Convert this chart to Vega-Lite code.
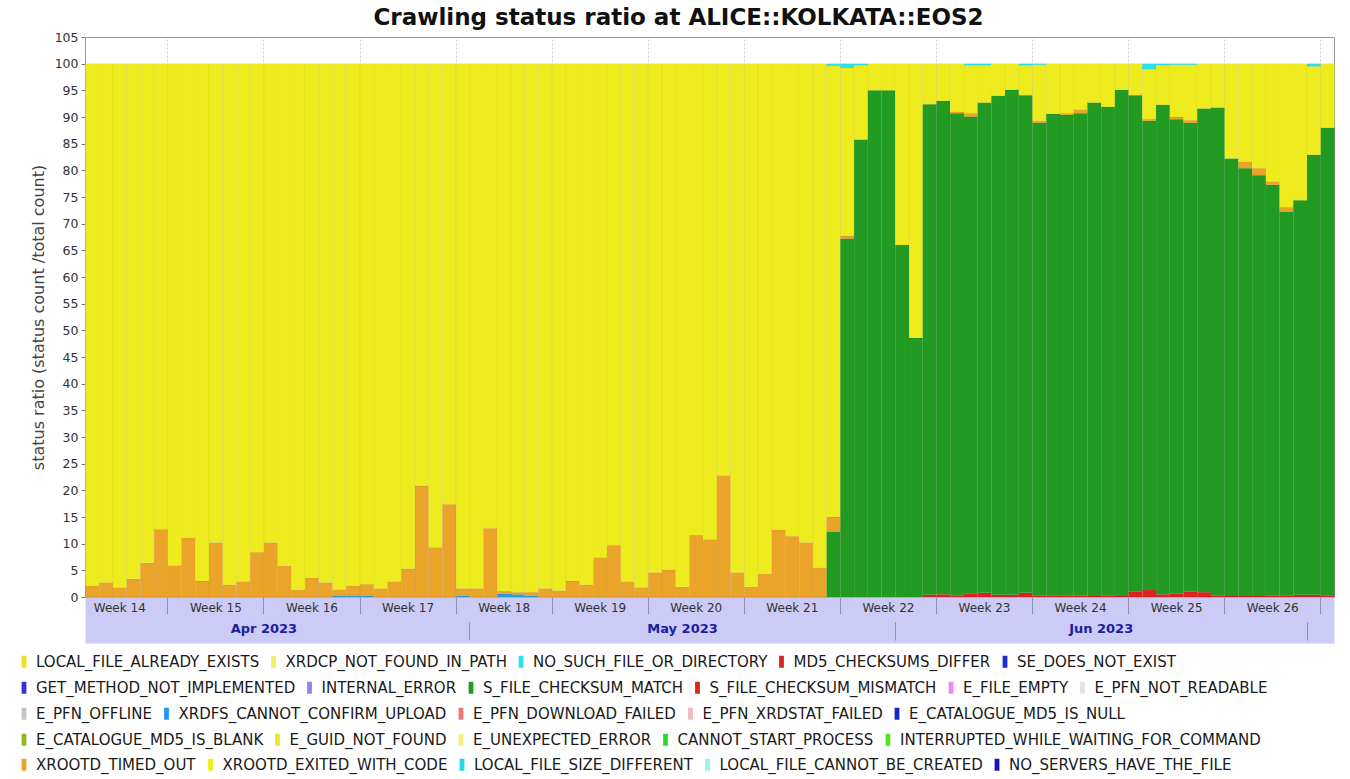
{
  "$schema": "https://vega.github.io/schema/vega-lite/v6.json",
  "autosize": {"type": "none"},
  "width": 1249,
  "height": 560,
  "padding": {"left": 85, "top": 37, "right": 16, "bottom": 182},
  "background": "white",
  "title": {"text": "Crawling status ratio at ALICE::KOLKATA::EOS2", "font": "DejaVu Sans", "fontSize": 23, "fontWeight": "bold", "color": "#111111", "anchor": "middle", "frame": "group", "dx": -31, "offset": 1},
  "datasets": {
    "crawl": [
      {"d":"2023-04-03","XROOTD_TIMED_OUT":2.1,"XROOTD_EXITED_WITH_CODE":97.9},
      {"d":"2023-04-04","XROOTD_TIMED_OUT":2.7,"XROOTD_EXITED_WITH_CODE":97.3},
      {"d":"2023-04-05","XROOTD_TIMED_OUT":1.8,"XROOTD_EXITED_WITH_CODE":98.2},
      {"d":"2023-04-06","XROOTD_TIMED_OUT":3.4,"XROOTD_EXITED_WITH_CODE":96.6},
      {"d":"2023-04-07","XROOTD_TIMED_OUT":6.4,"XROOTD_EXITED_WITH_CODE":93.6},
      {"d":"2023-04-08","XROOTD_TIMED_OUT":12.7,"XROOTD_EXITED_WITH_CODE":87.3},
      {"d":"2023-04-09","XROOTD_TIMED_OUT":5.9,"XROOTD_EXITED_WITH_CODE":94.1},
      {"d":"2023-04-10","XROOTD_TIMED_OUT":11.1,"XROOTD_EXITED_WITH_CODE":88.9},
      {"d":"2023-04-11","XROOTD_TIMED_OUT":3.0,"XROOTD_EXITED_WITH_CODE":97.0},
      {"d":"2023-04-12","XROOTD_TIMED_OUT":10.2,"XROOTD_EXITED_WITH_CODE":89.8},
      {"d":"2023-04-13","XROOTD_TIMED_OUT":2.3,"XROOTD_EXITED_WITH_CODE":97.7},
      {"d":"2023-04-14","XROOTD_TIMED_OUT":2.9,"XROOTD_EXITED_WITH_CODE":97.1},
      {"d":"2023-04-15","XROOTD_TIMED_OUT":8.4,"XROOTD_EXITED_WITH_CODE":91.6},
      {"d":"2023-04-16","XROOTD_TIMED_OUT":10.2,"XROOTD_EXITED_WITH_CODE":89.8},
      {"d":"2023-04-17","XROOTD_TIMED_OUT":5.8,"XROOTD_EXITED_WITH_CODE":94.2},
      {"d":"2023-04-18","XROOTD_TIMED_OUT":1.3,"XROOTD_EXITED_WITH_CODE":98.7},
      {"d":"2023-04-19","XROOTD_TIMED_OUT":3.6,"XROOTD_EXITED_WITH_CODE":96.4},
      {"d":"2023-04-20","XROOTD_TIMED_OUT":2.7,"XROOTD_EXITED_WITH_CODE":97.3},
      {"d":"2023-04-21","XRDFS_CANNOT_CONFIRM_UPLOAD":0.3,"XROOTD_TIMED_OUT":1.1,"XROOTD_EXITED_WITH_CODE":98.6},
      {"d":"2023-04-22","XRDFS_CANNOT_CONFIRM_UPLOAD":0.3,"XROOTD_TIMED_OUT":1.8,"XROOTD_EXITED_WITH_CODE":97.9},
      {"d":"2023-04-23","XRDFS_CANNOT_CONFIRM_UPLOAD":0.2,"XROOTD_TIMED_OUT":2.2,"XROOTD_EXITED_WITH_CODE":97.6},
      {"d":"2023-04-24","XROOTD_TIMED_OUT":1.6,"XROOTD_EXITED_WITH_CODE":98.4},
      {"d":"2023-04-25","XROOTD_TIMED_OUT":2.9,"XROOTD_EXITED_WITH_CODE":97.1},
      {"d":"2023-04-26","XROOTD_TIMED_OUT":5.3,"XROOTD_EXITED_WITH_CODE":94.7},
      {"d":"2023-04-27","XROOTD_TIMED_OUT":20.8,"XROOTD_EXITED_WITH_CODE":79.2},
      {"d":"2023-04-28","XROOTD_TIMED_OUT":9.3,"XROOTD_EXITED_WITH_CODE":90.7},
      {"d":"2023-04-29","XROOTD_TIMED_OUT":17.4,"XROOTD_EXITED_WITH_CODE":82.6},
      {"d":"2023-04-30","XRDFS_CANNOT_CONFIRM_UPLOAD":0.2,"XROOTD_TIMED_OUT":1.4,"XROOTD_EXITED_WITH_CODE":98.4},
      {"d":"2023-05-01","XROOTD_TIMED_OUT":1.6,"XROOTD_EXITED_WITH_CODE":98.4},
      {"d":"2023-05-02","XROOTD_TIMED_OUT":12.9,"XROOTD_EXITED_WITH_CODE":87.1},
      {"d":"2023-05-03","XRDFS_CANNOT_CONFIRM_UPLOAD":0.6,"XROOTD_TIMED_OUT":0.5,"XROOTD_EXITED_WITH_CODE":98.9},
      {"d":"2023-05-04","XRDFS_CANNOT_CONFIRM_UPLOAD":0.5,"XROOTD_TIMED_OUT":0.4,"XROOTD_EXITED_WITH_CODE":99.1},
      {"d":"2023-05-05","XRDFS_CANNOT_CONFIRM_UPLOAD":0.2,"XROOTD_TIMED_OUT":0.7,"XROOTD_EXITED_WITH_CODE":99.1},
      {"d":"2023-05-06","XROOTD_TIMED_OUT":1.6,"XROOTD_EXITED_WITH_CODE":98.4},
      {"d":"2023-05-07","XROOTD_TIMED_OUT":1.2,"XROOTD_EXITED_WITH_CODE":98.8},
      {"d":"2023-05-08","XROOTD_TIMED_OUT":3.0,"XROOTD_EXITED_WITH_CODE":97.0},
      {"d":"2023-05-09","XROOTD_TIMED_OUT":2.3,"XROOTD_EXITED_WITH_CODE":97.7},
      {"d":"2023-05-10","XROOTD_TIMED_OUT":7.4,"XROOTD_EXITED_WITH_CODE":92.6},
      {"d":"2023-05-11","XROOTD_TIMED_OUT":9.7,"XROOTD_EXITED_WITH_CODE":90.3},
      {"d":"2023-05-12","XROOTD_TIMED_OUT":2.9,"XROOTD_EXITED_WITH_CODE":97.1},
      {"d":"2023-05-13","XROOTD_TIMED_OUT":1.8,"XROOTD_EXITED_WITH_CODE":98.2},
      {"d":"2023-05-14","XROOTD_TIMED_OUT":4.6,"XROOTD_EXITED_WITH_CODE":95.4},
      {"d":"2023-05-15","XROOTD_TIMED_OUT":5.1,"XROOTD_EXITED_WITH_CODE":94.9},
      {"d":"2023-05-16","XROOTD_TIMED_OUT":1.9,"XROOTD_EXITED_WITH_CODE":98.1},
      {"d":"2023-05-17","XROOTD_TIMED_OUT":11.6,"XROOTD_EXITED_WITH_CODE":88.4},
      {"d":"2023-05-18","XROOTD_TIMED_OUT":10.8,"XROOTD_EXITED_WITH_CODE":89.2},
      {"d":"2023-05-19","XROOTD_TIMED_OUT":22.8,"XROOTD_EXITED_WITH_CODE":77.2},
      {"d":"2023-05-20","XROOTD_TIMED_OUT":4.6,"XROOTD_EXITED_WITH_CODE":95.4},
      {"d":"2023-05-21","XROOTD_TIMED_OUT":1.9,"XROOTD_EXITED_WITH_CODE":98.1},
      {"d":"2023-05-22","XROOTD_TIMED_OUT":4.3,"XROOTD_EXITED_WITH_CODE":95.7},
      {"d":"2023-05-23","XROOTD_TIMED_OUT":12.6,"XROOTD_EXITED_WITH_CODE":87.4},
      {"d":"2023-05-24","XROOTD_TIMED_OUT":11.4,"XROOTD_EXITED_WITH_CODE":88.6},
      {"d":"2023-05-25","XROOTD_TIMED_OUT":10.2,"XROOTD_EXITED_WITH_CODE":89.8},
      {"d":"2023-05-26","XROOTD_TIMED_OUT":5.5,"XROOTD_EXITED_WITH_CODE":94.5},
      {"d":"2023-05-27","S_FILE_CHECKSUM_MATCH":12.3,"XROOTD_TIMED_OUT":2.7,"XROOTD_EXITED_WITH_CODE":84.6,"NO_SUCH_FILE_OR_DIRECTORY":0.4},
      {"d":"2023-05-28","S_FILE_CHECKSUM_MATCH":67.2,"XROOTD_TIMED_OUT":0.5,"XROOTD_EXITED_WITH_CODE":31.5,"NO_SUCH_FILE_OR_DIRECTORY":0.8},
      {"d":"2023-05-29","S_FILE_CHECKSUM_MATCH":85.8,"XROOTD_EXITED_WITH_CODE":13.9,"NO_SUCH_FILE_OR_DIRECTORY":0.3},
      {"d":"2023-05-30","S_FILE_CHECKSUM_MATCH":95.0,"XROOTD_EXITED_WITH_CODE":5.0},
      {"d":"2023-05-31","S_FILE_CHECKSUM_MATCH":95.0,"XROOTD_EXITED_WITH_CODE":5.0},
      {"d":"2023-06-01","S_FILE_CHECKSUM_MATCH":66.0,"XROOTD_EXITED_WITH_CODE":34.0},
      {"d":"2023-06-02","S_FILE_CHECKSUM_MATCH":48.6,"XROOTD_EXITED_WITH_CODE":51.4},
      {"d":"2023-06-03","S_FILE_CHECKSUM_MISMATCH":0.4,"S_FILE_CHECKSUM_MATCH":92.0,"XROOTD_EXITED_WITH_CODE":7.6},
      {"d":"2023-06-04","S_FILE_CHECKSUM_MISMATCH":0.5,"S_FILE_CHECKSUM_MATCH":92.5,"XROOTD_EXITED_WITH_CODE":7.0},
      {"d":"2023-06-05","S_FILE_CHECKSUM_MISMATCH":0.3,"S_FILE_CHECKSUM_MATCH":90.4,"XROOTD_TIMED_OUT":0.3,"XROOTD_EXITED_WITH_CODE":9.0},
      {"d":"2023-06-06","S_FILE_CHECKSUM_MISMATCH":0.7,"S_FILE_CHECKSUM_MATCH":89.4,"XROOTD_TIMED_OUT":0.6,"XROOTD_EXITED_WITH_CODE":9.0,"NO_SUCH_FILE_OR_DIRECTORY":0.3},
      {"d":"2023-06-07","S_FILE_CHECKSUM_MISMATCH":0.8,"S_FILE_CHECKSUM_MATCH":91.9,"XROOTD_EXITED_WITH_CODE":7.0,"NO_SUCH_FILE_OR_DIRECTORY":0.3},
      {"d":"2023-06-08","S_FILE_CHECKSUM_MISMATCH":0.4,"S_FILE_CHECKSUM_MATCH":93.6,"XROOTD_EXITED_WITH_CODE":6.0},
      {"d":"2023-06-09","S_FILE_CHECKSUM_MISMATCH":0.4,"S_FILE_CHECKSUM_MATCH":94.7,"XROOTD_EXITED_WITH_CODE":4.9},
      {"d":"2023-06-10","S_FILE_CHECKSUM_MISMATCH":0.8,"S_FILE_CHECKSUM_MATCH":93.3,"XROOTD_EXITED_WITH_CODE":5.6,"NO_SUCH_FILE_OR_DIRECTORY":0.3},
      {"d":"2023-06-11","S_FILE_CHECKSUM_MISMATCH":0.3,"S_FILE_CHECKSUM_MATCH":88.6,"XROOTD_TIMED_OUT":0.4,"XROOTD_EXITED_WITH_CODE":10.5,"NO_SUCH_FILE_OR_DIRECTORY":0.2},
      {"d":"2023-06-12","S_FILE_CHECKSUM_MISMATCH":0.3,"S_FILE_CHECKSUM_MATCH":90.3,"XROOTD_EXITED_WITH_CODE":9.4},
      {"d":"2023-06-13","S_FILE_CHECKSUM_MISMATCH":0.3,"S_FILE_CHECKSUM_MATCH":90.1,"XROOTD_TIMED_OUT":0.3,"XROOTD_EXITED_WITH_CODE":9.3},
      {"d":"2023-06-14","S_FILE_CHECKSUM_MISMATCH":0.3,"S_FILE_CHECKSUM_MATCH":90.4,"XROOTD_TIMED_OUT":0.7,"XROOTD_EXITED_WITH_CODE":8.6},
      {"d":"2023-06-15","S_FILE_CHECKSUM_MISMATCH":0.2,"S_FILE_CHECKSUM_MATCH":92.5,"XROOTD_EXITED_WITH_CODE":7.3},
      {"d":"2023-06-16","S_FILE_CHECKSUM_MISMATCH":0.3,"S_FILE_CHECKSUM_MATCH":91.6,"XROOTD_EXITED_WITH_CODE":8.1},
      {"d":"2023-06-17","S_FILE_CHECKSUM_MISMATCH":0.2,"S_FILE_CHECKSUM_MATCH":94.9,"XROOTD_EXITED_WITH_CODE":4.9},
      {"d":"2023-06-18","S_FILE_CHECKSUM_MISMATCH":1.0,"S_FILE_CHECKSUM_MATCH":93.1,"XROOTD_EXITED_WITH_CODE":5.9},
      {"d":"2023-06-19","S_FILE_CHECKSUM_MISMATCH":1.3,"S_FILE_CHECKSUM_MATCH":88.0,"XROOTD_TIMED_OUT":0.3,"XROOTD_EXITED_WITH_CODE":9.4,"NO_SUCH_FILE_OR_DIRECTORY":1.0},
      {"d":"2023-06-20","S_FILE_CHECKSUM_MISMATCH":0.5,"S_FILE_CHECKSUM_MATCH":91.8,"XROOTD_EXITED_WITH_CODE":7.4,"NO_SUCH_FILE_OR_DIRECTORY":0.3},
      {"d":"2023-06-21","S_FILE_CHECKSUM_MISMATCH":0.6,"S_FILE_CHECKSUM_MATCH":89.0,"XROOTD_TIMED_OUT":0.4,"XROOTD_EXITED_WITH_CODE":9.8,"NO_SUCH_FILE_OR_DIRECTORY":0.2},
      {"d":"2023-06-22","S_FILE_CHECKSUM_MISMATCH":1.0,"S_FILE_CHECKSUM_MATCH":87.9,"XROOTD_TIMED_OUT":0.5,"XROOTD_EXITED_WITH_CODE":10.4,"NO_SUCH_FILE_OR_DIRECTORY":0.2},
      {"d":"2023-06-23","S_FILE_CHECKSUM_MISMATCH":0.9,"S_FILE_CHECKSUM_MATCH":90.7,"XROOTD_EXITED_WITH_CODE":8.4},
      {"d":"2023-06-24","S_FILE_CHECKSUM_MISMATCH":0.3,"S_FILE_CHECKSUM_MATCH":91.5,"XROOTD_EXITED_WITH_CODE":8.2},
      {"d":"2023-06-25","S_FILE_CHECKSUM_MISMATCH":0.2,"S_FILE_CHECKSUM_MATCH":82.0,"XROOTD_EXITED_WITH_CODE":17.8},
      {"d":"2023-06-26","S_FILE_CHECKSUM_MISMATCH":0.2,"S_FILE_CHECKSUM_MATCH":80.2,"XROOTD_TIMED_OUT":1.2,"XROOTD_EXITED_WITH_CODE":18.4},
      {"d":"2023-06-27","S_FILE_CHECKSUM_MISMATCH":0.2,"S_FILE_CHECKSUM_MATCH":78.9,"XROOTD_TIMED_OUT":1.3,"XROOTD_EXITED_WITH_CODE":19.6},
      {"d":"2023-06-28","S_FILE_CHECKSUM_MISMATCH":0.3,"S_FILE_CHECKSUM_MATCH":77.0,"XROOTD_TIMED_OUT":0.6,"XROOTD_EXITED_WITH_CODE":22.1},
      {"d":"2023-06-29","S_FILE_CHECKSUM_MISMATCH":0.3,"S_FILE_CHECKSUM_MATCH":72.0,"XROOTD_TIMED_OUT":0.8,"XROOTD_EXITED_WITH_CODE":26.9},
      {"d":"2023-06-30","S_FILE_CHECKSUM_MISMATCH":0.4,"S_FILE_CHECKSUM_MATCH":74.0,"XROOTD_EXITED_WITH_CODE":25.6},
      {"d":"2023-07-01","S_FILE_CHECKSUM_MISMATCH":0.4,"S_FILE_CHECKSUM_MATCH":82.5,"XROOTD_EXITED_WITH_CODE":16.6,"NO_SUCH_FILE_OR_DIRECTORY":0.5},
      {"d":"2023-07-02","S_FILE_CHECKSUM_MISMATCH":0.3,"S_FILE_CHECKSUM_MATCH":87.7,"XROOTD_EXITED_WITH_CODE":12.0}
    ]
  },
  "config": {
    "font": "DejaVu Sans",
    "view": {"stroke": "#9a9a9a", "fill": "white"},
    "axis": {"labelFont": "DejaVu Sans", "titleFont": "DejaVu Sans"},
    "legend": {"labelFont": "DejaVu Sans", "labelFontSize": 15, "labelColor": "#1a1a1a", "labelLimit": 800, "symbolType": "M-0.4,-1H0.4V1H-0.4Z", "symbolSize": 144, "symbolStrokeWidth": 0, "symbolOpacity": 1, "labelOffset": 4.5, "columnPadding": 6.5, "padding": 0, "direction": "horizontal", "orient": "none"}
  },
  "layer": [
    {
      "data": {"name": "crawl"},
      "transform": [
        {"fold": ["XRDFS_CANNOT_CONFIRM_UPLOAD", "S_FILE_CHECKSUM_MISMATCH", "S_FILE_CHECKSUM_MATCH", "XROOTD_TIMED_OUT", "XROOTD_EXITED_WITH_CODE", "NO_SUCH_FILE_OR_DIRECTORY"], "as": ["status", "ratio"]},
        {"window": [{"op": "row_number", "as": "stack_rank"}], "groupby": ["d"]},
        {"filter": "datum.ratio > 0"}
      ],
      "mark": {"type": "bar", "binSpacing": 0, "stroke": "#000000", "strokeOpacity": 0.05, "strokeWidth": 0.8},
      "encoding": {
        "x": {"field": "d", "type": "temporal", "timeUnit": "utcyearmonthdate",
          "scale": {"domain": [{"year": 2023, "month": 4, "date": 3, "utc": true}, {"year": 2023, "month": 7, "date": 3, "utc": true}]},
          "axis": {"orient": "bottom", "title": null, "labels": false, "ticks": false, "grid": false, "domain": true, "domainColor": "#cbcbf5", "domainWidth": 46, "domainCap": "butt", "offset": 23, "zindex": 0}},
        "y": {"field": "ratio", "type": "quantitative", "stack": "zero",
          "scale": {"domain": [0, 105], "nice": false},
          "axis": {"values": [0,5,10,15,20,25,30,35,40,45,50,55,60,65,70,75,80,85,90,95,100,105], "title": "status ratio (status count /total count)", "titleFontSize": 16, "titleFontWeight": "normal", "titleColor": "#444444", "titlePadding": 8, "labelFontSize": 12.5, "labelColor": "#333333", "labelPadding": 3, "tickSize": 4, "tickColor": "#777777", "domainColor": "#9a9a9a", "grid": false, "labelFlush": false, "labelOverlap": false}},
        "color": {"field": "status", "type": "nominal",
          "scale": {"domain": ["XRDFS_CANNOT_CONFIRM_UPLOAD", "S_FILE_CHECKSUM_MISMATCH", "S_FILE_CHECKSUM_MATCH", "XROOTD_TIMED_OUT", "XROOTD_EXITED_WITH_CODE", "NO_SUCH_FILE_OR_DIRECTORY"],
                    "range": ["#2a9fe8", "#dd2222", "#239b23", "#eba42a", "#eeec1e", "#2ee0ea"]},
          "legend": null},
        "order": {"field": "stack_rank", "type": "quantitative", "sort": "ascending"}
      }
    },
    {
      "data": {"values": []},
      "mark": "point",
      "encoding": {"x": {"field": "d", "type": "temporal", "timeUnit": "utcyearmonthdate",
        "axis": {"orient": "bottom", "values": [{"year":2023,"month":4,"date":9,"utc":true},{"year":2023,"month":4,"date":16,"utc":true},{"year":2023,"month":4,"date":23,"utc":true},{"year":2023,"month":4,"date":30,"utc":true},{"year":2023,"month":5,"date":7,"utc":true},{"year":2023,"month":5,"date":14,"utc":true},{"year":2023,"month":5,"date":21,"utc":true},{"year":2023,"month":5,"date":28,"utc":true},{"year":2023,"month":6,"date":4,"utc":true},{"year":2023,"month":6,"date":11,"utc":true},{"year":2023,"month":6,"date":18,"utc":true},{"year":2023,"month":6,"date":25,"utc":true},{"year":2023,"month":7,"date":2,"utc":true}],
          "title": null, "grid": true, "gridColor": "#cfcfcf", "gridDash": [2, 2], "labels": false, "ticks": false, "domain": false, "zindex": 0}}}
    },
    {
      "data": {"values": []},
      "mark": "point",
      "encoding": {"x": {"field": "d", "type": "temporal", "timeUnit": "utcyearmonthdate",
        "axis": {"orient": "bottom", "values": [{"year":2023,"month":4,"date":9,"utc":true},{"year":2023,"month":4,"date":16,"utc":true},{"year":2023,"month":4,"date":23,"utc":true},{"year":2023,"month":4,"date":30,"utc":true},{"year":2023,"month":5,"date":7,"utc":true},{"year":2023,"month":5,"date":14,"utc":true},{"year":2023,"month":5,"date":21,"utc":true},{"year":2023,"month":5,"date":28,"utc":true},{"year":2023,"month":6,"date":4,"utc":true},{"year":2023,"month":6,"date":11,"utc":true},{"year":2023,"month":6,"date":18,"utc":true},{"year":2023,"month":6,"date":25,"utc":true},{"year":2023,"month":7,"date":2,"utc":true}],
          "title": null, "grid": false, "labels": false, "ticks": true, "tickSize": 17, "tickColor": "#8f8fb0", "domain": false, "zindex": 1}}}
    },
    {
      "data": {"values": []},
      "mark": "point",
      "encoding": {"x": {"field": "d", "type": "temporal", "timeUnit": "utcyearmonthdate",
        "axis": {"orient": "bottom", "values": [{"year":2023,"month":4,"date":5,"hours":12,"utc":true},{"year":2023,"month":4,"date":12,"hours":12,"utc":true},{"year":2023,"month":4,"date":19,"hours":12,"utc":true},{"year":2023,"month":4,"date":26,"hours":12,"utc":true},{"year":2023,"month":5,"date":3,"hours":12,"utc":true},{"year":2023,"month":5,"date":10,"hours":12,"utc":true},{"year":2023,"month":5,"date":17,"hours":12,"utc":true},{"year":2023,"month":5,"date":24,"hours":12,"utc":true},{"year":2023,"month":5,"date":31,"hours":12,"utc":true},{"year":2023,"month":6,"date":7,"hours":12,"utc":true},{"year":2023,"month":6,"date":14,"hours":12,"utc":true},{"year":2023,"month":6,"date":21,"hours":12,"utc":true},{"year":2023,"month":6,"date":28,"hours":12,"utc":true}],
          "labelExpr": "'Week ' + utcFormat(datum.value, '%U')", "title": null, "grid": false, "ticks": false, "tickSize": 0, "domain": false, "labelFontSize": 12, "labelColor": "#333333", "labelPadding": 5, "labelOverlap": false, "labelFlush": false, "labelBound": false, "zindex": 1}}}
    },
    {
      "data": {"values": []},
      "mark": "point",
      "encoding": {"x": {"field": "d", "type": "temporal", "timeUnit": "utcyearmonthdate",
        "axis": {"orient": "bottom", "values": [{"year":2023,"month":5,"date":1,"utc":true},{"year":2023,"month":6,"date":1,"utc":true},{"year":2023,"month":7,"date":1,"utc":true}],
          "title": null, "grid": false, "labels": false, "ticks": true, "tickSize": 18, "tickColor": "#8f8fb0", "domain": false, "offset": 25, "zindex": 1}}}
    },
    {
      "data": {"values": []},
      "mark": "point",
      "encoding": {"x": {"field": "d", "type": "temporal", "timeUnit": "utcyearmonthdate",
        "axis": {"orient": "bottom", "values": [{"year":2023,"month":4,"date":16,"utc":true},{"year":2023,"month":5,"date":16,"hours":12,"utc":true},{"year":2023,"month":6,"date":16,"utc":true}],
          "labelExpr": "utcFormat(datum.value, '%b %Y')", "title": null, "grid": false, "ticks": false, "tickSize": 0, "domain": false, "offset": 22, "labelFontSize": 13, "labelFontWeight": "bold", "labelColor": "#20209e", "labelPadding": 3, "labelOverlap": false, "labelFlush": false, "labelBound": false, "zindex": 1}}}
    },
    {
      "data": {"values": []},
      "mark": "square",
      "encoding": {"color": {"field": "status", "type": "nominal",
        "scale": {"domain": ["LOCAL_FILE_ALREADY_EXISTS", "XRDCP_NOT_FOUND_IN_PATH", "NO_SUCH_FILE_OR_DIRECTORY", "MD5_CHECKSUMS_DIFFER", "SE_DOES_NOT_EXIST"],
                  "range": ["#eee21e", "#f4ee6a", "#2ee0ea", "#dd2222", "#1a2fd6"]},
        "legend": {"title": null, "legendX": -68.5, "legendY": 617}}}
    },
    {
      "data": {"values": []},
      "mark": "square",
      "encoding": {"color": {"field": "status", "type": "nominal",
        "scale": {"domain": ["GET_METHOD_NOT_IMPLEMENTED", "INTERNAL_ERROR", "S_FILE_CHECKSUM_MATCH", "S_FILE_CHECKSUM_MISMATCH", "E_FILE_EMPTY", "E_PFN_NOT_READABLE"],
                  "range": ["#2a3ad4", "#8888f0", "#229922", "#dd2222", "#ee88ee", "#e2e2e2"]},
        "legend": {"title": null, "legendX": -68.5, "legendY": 643}}}
    },
    {
      "data": {"values": []},
      "mark": "square",
      "encoding": {"color": {"field": "status", "type": "nominal",
        "scale": {"domain": ["E_PFN_OFFLINE", "XRDFS_CANNOT_CONFIRM_UPLOAD", "E_PFN_DOWNLOAD_FAILED", "E_PFN_XRDSTAT_FAILED", "E_CATALOGUE_MD5_IS_NULL"],
                  "range": ["#c4c4c4", "#2299ee", "#ee7777", "#f0baba", "#1428c8"]},
        "legend": {"title": null, "legendX": -68.5, "legendY": 669}}}
    },
    {
      "data": {"values": []},
      "mark": "square",
      "encoding": {"color": {"field": "status", "type": "nominal",
        "scale": {"domain": ["E_CATALOGUE_MD5_IS_BLANK", "E_GUID_NOT_FOUND", "E_UNEXPECTED_ERROR", "CANNOT_START_PROCESS", "INTERRUPTED_WHILE_WAITING_FOR_COMMAND"],
                  "range": ["#94b524", "#eee622", "#f7f07a", "#22dd22", "#55e022"]},
        "legend": {"title": null, "legendX": -68.5, "legendY": 695}}}
    },
    {
      "data": {"values": []},
      "mark": "square",
      "encoding": {"color": {"field": "status", "type": "nominal",
        "scale": {"domain": ["XROOTD_TIMED_OUT", "XROOTD_EXITED_WITH_CODE", "LOCAL_FILE_SIZE_DIFFERENT", "LOCAL_FILE_CANNOT_BE_CREATED", "NO_SERVERS_HAVE_THE_FILE"],
                  "range": ["#eba42a", "#eeee1e", "#22d8e8", "#99f0f0", "#1414c0"]},
        "legend": {"title": null, "legendX": -68.5, "legendY": 720}}}
    }
  ],
  "resolve": {"scale": {"color": "independent"}, "legend": {"color": "independent"}, "axis": {"x": "independent"}}
}
